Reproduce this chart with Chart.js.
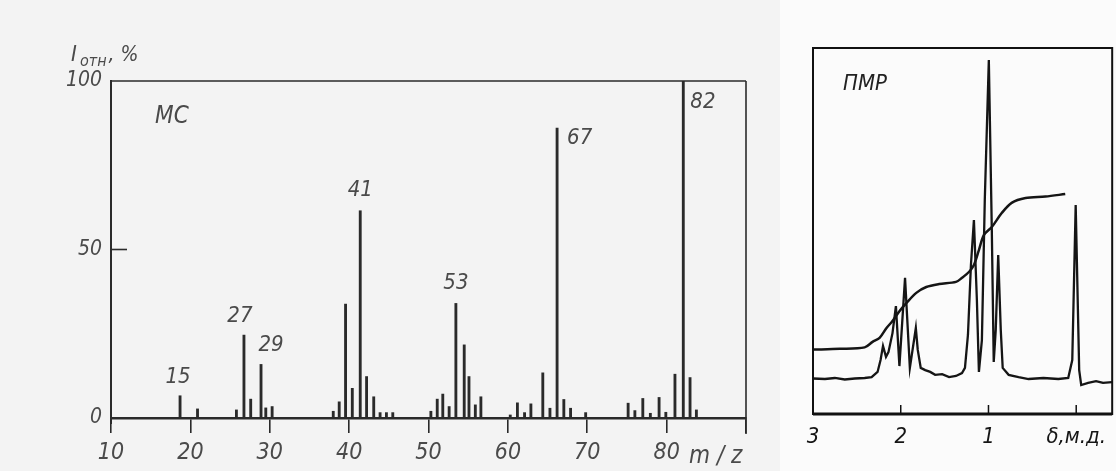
<!DOCTYPE html>
<html>
<head>
<meta charset="utf-8">
<script src="https://cdn.jsdelivr.net/npm/chart.js@4/dist/chart.umd.min.js"></script>
<style>
  html, body { margin: 0; padding: 0; background: #f3f3f3; }
  #wrap { position: relative; width: 1116px; height: 471px; overflow: hidden; }
  #msBox { position: absolute; left: 0; top: 0; width: 780px; height: 471px; }
  #nmrBox { position: absolute; left: 780px; top: 0; width: 336px; height: 471px; background: #fbfbfb; }
</style>
</head>
<body>
<div id="wrap">
  <div id="msBox"><canvas id="ms" width="780" height="471"></canvas></div>
  <div id="nmrBox"><canvas id="nmr" width="336" height="471"></canvas></div>
</div>
<script>
// ---------- Mass spectrum (MC) data ----------
const mzPos = [18.7, 20.9, 25.8, 26.75, 27.6, 28.9, 29.5, 30.3,
               38.0, 38.75, 39.55, 40.4, 41.4, 42.2, 43.1, 43.9, 44.7, 45.5,
               50.3, 51.1, 51.8, 52.6, 53.45, 54.5, 55.1, 55.9, 56.6,
               60.3, 61.2, 62.1, 62.9, 64.4, 65.3, 66.2, 67.05, 67.9, 69.8,
               75.15, 76.0, 77.0, 77.95, 79.05, 79.9, 81.05, 82.1, 82.95, 83.75];
const mzInt = [6.6, 2.7, 2.4, 24.6, 5.6, 15.9, 3.0, 3.4,
               2.0, 4.8, 33.8, 8.8, 61.5, 12.3, 6.3, 1.6, 1.6, 1.6,
               2.0, 5.6, 7.1, 3.4, 34.0, 21.7, 12.3, 3.9, 6.3,
               0.9, 4.5, 1.6, 4.2, 13.4, 2.9, 86.0, 5.5, 2.9, 1.6,
               4.4, 2.2, 5.8, 1.4, 6.1, 1.7, 13.0, 100.0, 12.0, 2.4];
const peakNames = ['15', '27', '29', '41', '53', '67', '82'];
const peakAt    = [18.7, 26.75, 28.9, 41.4, 53.45, 66.2, 82.1];
const msXTicks = [10, 20, 30, 40, 50, 60, 70, 80, 90];
const msXTickLabels = ['10', '20', '30', '40', '50', '60', '70', '80', ''];
const msYTicks = [0, 50, 100];
const msYTickLabels = ['0', '50', '100'];

// ---------- NMR (ПМР) data ----------
const nmrShift = [3.0, 2.864, 2.751, 2.638, 2.524, 2.411, 2.332, 2.264, 2.230, 2.202,
                  2.168, 2.140, 2.094, 2.055, 2.015, 1.951, 1.896, 1.828, 1.806, 1.772,
                  1.721, 1.664, 1.608, 1.528, 1.449, 1.370, 1.302, 1.268, 1.234, 1.200,
                  1.166, 1.132, 1.109, 1.075, 1.042, 0.996, 0.962, 0.940, 0.917, 0.889,
                  0.860, 0.838, 0.770, 0.657, 0.543, 0.374, 0.204, 0.091, 0.045, 0.006,
                  -0.034, -0.057, -0.136, -0.226, -0.306, -0.408];
const nmrSignal = [9.7, 9.56, 9.84, 9.43, 9.7, 9.84, 10.1, 11.5, 14.75, 18.6,
                   15.6, 16.9, 22.1, 29.5, 13.1, 37.2, 12.6, 23.5, 17.5, 12.6,
                   12.0, 11.5, 10.7, 10.9, 10.1, 10.4, 11.2, 12.6, 21.6, 40.7,
                   53.0, 31.1, 11.5, 20.2, 58.5, 96.7, 50.3, 14.2, 23.0, 43.4,
                   23.0, 12.6, 10.7, 10.1, 9.56, 9.84, 9.56, 9.84, 14.75, 57.1,
                   12.0, 7.9, 8.5, 9.0, 8.5, 8.7];
const integShift = [3.0, 2.694, 2.411, 2.321, 2.241, 2.162, 2.094, 2.015, 1.936, 1.823,
                    1.709, 1.562, 1.370, 1.302, 1.223, 1.166, 1.109, 1.053, 0.962, 0.849,
                    0.736, 0.577, 0.351, 0.125];
const integValue = [17.6, 17.8, 18.2, 19.7, 20.8, 23.5, 25.4, 28.1, 30.3, 33.1,
                    34.7, 35.5, 36.1, 37.2, 38.8, 40.7, 44.8, 48.9, 51.1, 54.9,
                    57.7, 59.0, 59.4, 60.1];
const nmrTicks = [3, 2, 1, 0];
const nmrTickLabels = ['3', '2', '1', 'δ,м.д.'];

// ---------- styles ----------
const FONT = "'DejaVu Sans Condensed', 'Liberation Sans Narrow', 'DejaVu Sans', sans-serif";
const INK = '#2a2a2a';
const TXT = '#4a4a4a';
const peakLabelStyle = [
  {dx: -2, dy: -18, align: 'center'},
  {dx: -4, dy: -19, align: 'center'},
  {dx: 10, dy: -19, align: 'center'},
  {dx: 0,  dy: -20, align: 'center'},
  {dx: 0,  dy: -20, align: 'center'},
  {dx: 10, dy: 10,  align: 'left'},
  {dx: 7,  dy: 21,  align: 'left'}
];

Chart.defaults.animation = false;
Chart.defaults.plugins.legend.display = false;
Chart.defaults.plugins.tooltip.enabled = false;
Chart.defaults.font.family = FONT;

// ---------- MS chart ----------
const msDecor = {
  id: 'msDecor',
  afterDraw(chart) {
    const ctx = chart.ctx;
    const {left, top, right, bottom} = chart.chartArea;
    const xs = chart.scales.x, ys = chart.scales.y;
    ctx.save();
    ctx.strokeStyle = INK;
    ctx.lineCap = 'butt';
    ctx.lineWidth = 1.6;
    ctx.beginPath(); ctx.moveTo(left, top); ctx.lineTo(right, top); ctx.stroke();
    ctx.beginPath(); ctx.moveTo(right, top); ctx.lineTo(right, bottom + 16); ctx.stroke();
    ctx.lineWidth = 2;
    ctx.beginPath(); ctx.moveTo(left, bottom); ctx.lineTo(left, bottom + 6); ctx.stroke();
    ctx.lineWidth = 1.6;
    msYTicks.forEach(v => {
      if (v > ys.min && v < ys.max) {
        const y = ys.getPixelForValue(v);
        ctx.beginPath(); ctx.moveTo(left, y); ctx.lineTo(left + 16, y); ctx.stroke();
      }
    });
    ctx.fillStyle = TXT;
    ctx.font = "italic 22px " + FONT;
    ctx.textBaseline = 'middle';
    peakNames.forEach((name, i) => {
      const idx = mzPos.indexOf(peakAt[i]);
      const st = peakLabelStyle[i];
      const x = xs.getPixelForValue(peakAt[i]) + st.dx;
      const y = ys.getPixelForValue(mzInt[idx]) + st.dy;
      ctx.textAlign = st.align;
      ctx.fillText(name, x, y);
    });
    ctx.textAlign = 'left';
    ctx.font = "italic 24px " + FONT;
    ctx.fillText('MC', left + 44, top + 36);
    // axis title I_отн, %
    ctx.textBaseline = 'alphabetic';
    ctx.font = "italic 22px " + FONT;
    ctx.fillText('I', 71, 61);
    ctx.font = "italic 16px " + FONT;
    ctx.fillText('отн', 80, 66);
    const w = ctx.measureText('отн').width;
    ctx.font = "italic 21px " + FONT;
    ctx.fillText(', %', 80 + w + 2, 61);
    ctx.font = "italic 24px " + FONT;
    ctx.textBaseline = 'middle';
    ctx.fillText('m / z', 689, 457);
    ctx.restore();
  }
};

new Chart(document.getElementById('ms'), {
  type: 'bar',
  data: {
    datasets: [{
      data: mzPos.map((x, i) => ({x: x, y: mzInt[i]})),
      backgroundColor: INK,
      borderWidth: 0,
      barThickness: 2.2
    }]
  },
  options: {
    responsive: false,
    layout: {padding: {left: 0, top: 81, right: 34, bottom: 0}},
    scales: {
      x: {
        type: 'linear', min: 10, max: 90, offset: false,
        afterBuildTicks: s => { s.ticks = msXTicks.map(v => ({value: v})); },
        afterFit: s => { s.height = 53; },
        ticks: {
          callback: (v) => msXTickLabels[msXTicks.indexOf(v)],
          font: {size: 23, style: 'italic', family: FONT},
          color: TXT, padding: 6, maxRotation: 0, autoSkip: false
        },
        grid: {drawOnChartArea: false, drawTicks: true, tickLength: 15, color: INK, lineWidth: 1.6, offset: false},
        border: {display: true, color: INK, width: 2.6}
      },
      y: {
        min: 0, max: 100,
        afterBuildTicks: s => { s.ticks = msYTicks.map(v => ({value: v})); },
        afterFit: s => { s.width = 111; },
        ticks: {
          callback: (v) => msYTickLabels[msYTicks.indexOf(v)],
          font: {size: 21, style: 'italic', family: FONT},
          color: TXT, padding: 9
        },
        grid: {display: true, drawOnChartArea: false, drawTicks: false},
        border: {display: true, color: INK, width: 2}
      }
    }
  },
  plugins: [msDecor]
});

// ---------- NMR chart ----------
const nmrDecor = {
  id: 'nmrDecor',
  afterDraw(chart) {
    const ctx = chart.ctx;
    const {left, top, right, bottom} = chart.chartArea;
    const xs = chart.scales.x;
    ctx.save();
    ctx.strokeStyle = '#111';
    ctx.lineWidth = 2;
    ctx.strokeRect(left, top, right - left, bottom - top);
    ctx.lineWidth = 3;
    ctx.beginPath(); ctx.moveTo(left, bottom); ctx.lineTo(right, bottom); ctx.stroke();
    ctx.lineWidth = 1.5;
    nmrTicks.forEach(v => {
      const x = xs.getPixelForValue(v);
      if (x > left + 2 && x < right - 2) {
        ctx.beginPath(); ctx.moveTo(x, bottom); ctx.lineTo(x, bottom - 9); ctx.stroke();
      }
    });
    ctx.fillStyle = '#222';
    ctx.font = "italic 22px " + FONT;
    ctx.textBaseline = 'middle';
    ctx.textAlign = 'left';
    ctx.fillText('ПМР', left + 30, top + 36);
    ctx.restore();
  }
};

new Chart(document.getElementById('nmr'), {
  type: 'line',
  data: {
    datasets: [
      {
        data: nmrShift.map((x, i) => ({x: x, y: nmrSignal[i]})),
        borderColor: '#151515', borderWidth: 2.3, pointRadius: 0, tension: 0, fill: false
      },
      {
        data: integShift.map((x, i) => ({x: x, y: integValue[i]})),
        borderColor: '#151515', borderWidth: 2.5, pointRadius: 0, tension: 0.3, fill: false
      }
    ]
  },
  options: {
    responsive: false,
    layout: {padding: {left: 33, top: 48, right: 0, bottom: 0}},
    scales: {
      x: {
        type: 'linear', min: -0.41, max: 3, reverse: true,
        afterBuildTicks: s => { s.ticks = nmrTicks.map(v => ({value: v})); },
        afterFit: s => { s.height = 57; },
        ticks: {
          callback: (v) => nmrTickLabels[nmrTicks.indexOf(v)],
          font: {size: 22, style: 'italic', family: FONT},
          color: '#151515', padding: 10, maxRotation: 0, autoSkip: false
        },
        grid: {display: true, drawOnChartArea: false, drawTicks: false},
        border: {display: false}
      },
      y: {min: 0, max: 100, display: false}
    }
  },
  plugins: [nmrDecor]
});
</script>
</body>
</html>
